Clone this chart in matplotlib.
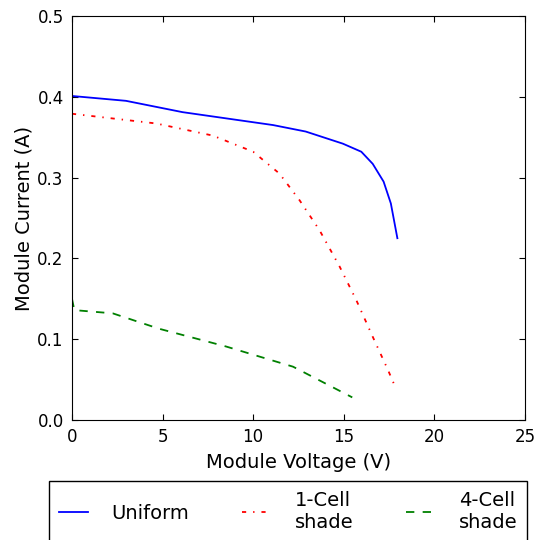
import matplotlib
matplotlib.use('Agg')
import matplotlib.pyplot as plt

# I-V curves
uniform_v = [0, 2.98, 6.1, 11.1, 12.9, 14.95, 15.97, 16.6, 17.2, 17.6, 17.96]
uniform_i = [0.401, 0.395, 0.381, 0.365, 0.357, 0.342, 0.332, 0.317, 0.295, 0.268, 0.225]

cell1_v = [0, 4.64, 7.77, 10.0, 11.45, 12.56, 13.66, 14.77, 15.7, 16.6, 17.44, 17.86]
cell1_i = [0.379, 0.367, 0.352, 0.332, 0.305, 0.272, 0.235, 0.19, 0.148, 0.103, 0.062, 0.040]

cell4_v = [0, 0.13, 2.25, 4.8, 8.5, 12.2, 15.47]
cell4_i = [0.150, 0.136, 0.132, 0.113, 0.091, 0.066, 0.028]

plt.rcParams['font.family'] = 'DejaVu Sans'
plt.rcParams['font.size'] = 12
plt.rcParams['xtick.direction'] = 'in'
plt.rcParams['ytick.direction'] = 'in'
plt.rcParams['xtick.top'] = True
plt.rcParams['ytick.right'] = True
plt.rcParams['xtick.major.size'] = 4
plt.rcParams['ytick.major.size'] = 4
plt.rcParams['xtick.major.pad'] = 6
plt.rcParams['ytick.major.pad'] = 6
# old-style dash patterns
plt.rcParams['lines.scale_dashes'] = False
plt.rcParams['lines.dashed_pattern'] = [6, 6]
plt.rcParams['lines.dashdot_pattern'] = [3, 5, 1, 5]

fig = plt.figure(figsize=(5.34, 5.40), dpi=100)
ax = fig.add_axes([0.1348, 0.2222, 0.8482, 0.7482])

ax.plot(uniform_v, uniform_i, color='b', linestyle='-', linewidth=1.3, label='Uniform')
ax.plot(cell1_v, cell1_i, color='r', linestyle='-.', linewidth=1.3, label='1-Cell\nshade')
ax.plot(cell4_v, cell4_i, color='g', linestyle='--', linewidth=1.3, label='4-Cell\nshade')

ax.set_xlim(0, 25)
ax.set_ylim(0, 0.5)
ax.set_xticks([0, 5, 10, 15, 20, 25])
ax.set_yticks([0.0, 0.1, 0.2, 0.3, 0.4, 0.5])
ax.set_xlabel('Module Voltage (V)', fontsize=14, labelpad=5)
ax.set_ylabel('Module Current (A)', fontsize=14, labelpad=3)

leg = fig.legend(loc='upper left', bbox_to_anchor=(0.092, 0.0, 0.895, 0.109),
                 mode='expand', ncol=3, handlelength=1.5, handletextpad=1.2,
                 fancybox=False, borderpad=0.5, borderaxespad=0, framealpha=1,
                 fontsize=14)
leg.get_frame().set_edgecolor('black')

plt.savefig('out.png', dpi=100)
plt.close(fig)
